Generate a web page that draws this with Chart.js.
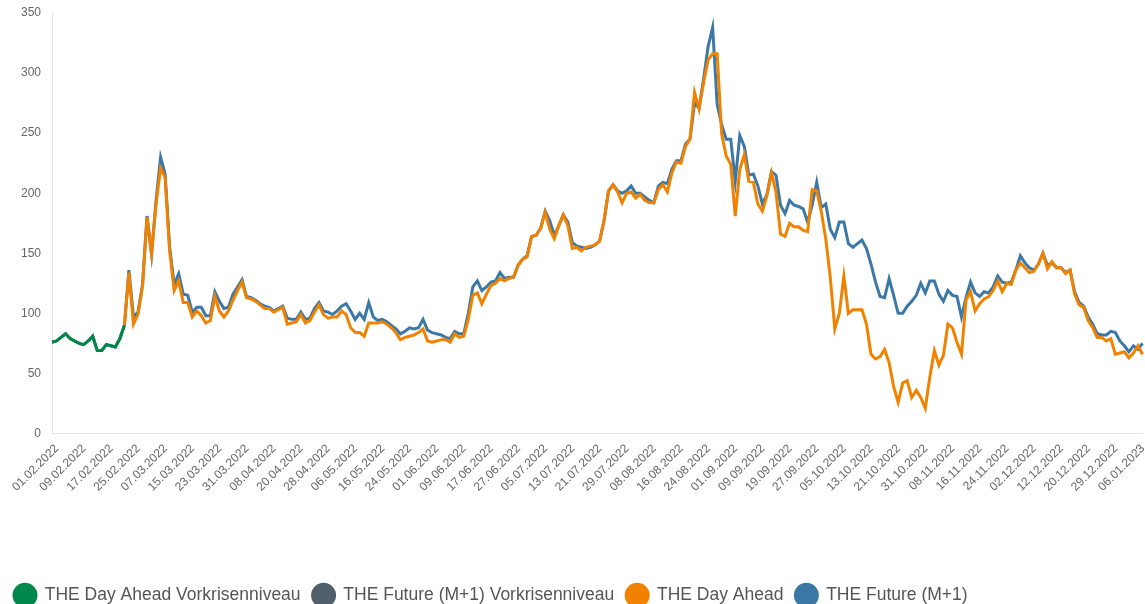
<!DOCTYPE html>
<html lang="de">
<head>
<meta charset="utf-8">
<title>THE Gaspreise</title>
<script src="https://cdn.jsdelivr.net/npm/chart.js@4.4.1/dist/chart.umd.min.js"></script>
<style>
    html, body { margin: 0; padding: 0; background: #fff; }
    #wrap { position: relative; width: 1145px; height: 604px; }
</style>
</head>
<body>
<div id="wrap"><canvas id="priceChart"></canvas></div>
<script>
// Handelstage (ohne Wochenenden und Feiertage)
const firstDay = "2022-02-01";
const lastDay = "2023-01-09";
const holidays = ["2022-04-15", "2022-04-18", "2022-12-26"];

// Vorkrisenniveau, Index 0..16
const dayAheadPre = [76, 77, 80, 83, 79, 77, 75, 74, 77, 81, 69, 69, 74, 73, 72, 79, 90];
const futurePre = [76, 77, 80, 83, 79, 77, 75, 74, 77, 81, 69, 69, 74, 73, 72, 79, 90];

// ab Index 16 (23.02.2022)
const crisisStart = 16;
const dayAhead = [
    90, 134, 91, 99, 122, 180, 150, 191, 221, 213,
    152, 119, 127, 109, 109, 97, 102, 98, 92, 94,
    114, 102, 97, 102, 111, 119, 126, 113, 112, 110,
    107, 104, 104, 101, 103, 105, 91, 92, 93, 99,
    92, 94, 101, 107, 99, 96, 97, 97, 102, 99,
    88, 84, 84, 81, 92, 92, 92, 93, 91, 88,
    84, 78, 80, 81, 82, 84, 87, 77, 76, 77,
    78, 78, 76, 83, 80, 81, 95, 115, 117, 108,
    116, 123, 125, 129, 127, 129, 130, 140, 145, 147,
    164, 165, 171, 184, 170, 162, 173, 182, 173, 154,
    155, 152, 155, 156, 157, 160, 177, 202, 207, 201, 192,
    200, 201, 196, 199, 194, 192, 192, 203, 207, 201,
    217, 226, 225, 239, 245, 284, 270, 292, 311, 316,
    316, 249, 231, 224, 181, 220, 232, 210, 209, 191,
    185, 198, 217, 201, 166, 164, 175, 172, 172, 169,
    168, 203, 202, 185, 162, 130, 87, 100, 131, 100,
    103, 103, 103, 91, 66, 62, 64, 70, 59, 39,
    26, 42, 44, 30, 36, 30, 21, 47, 69, 57,
    65, 91, 88, 76, 66, 111, 118, 102, 108, 112,
    114, 119, 127, 118, 125, 124, 136, 142, 138, 134,
    135, 141, 150, 137, 143, 138, 138, 133, 136, 116,
    107, 105, 94, 88, 80, 80, 77, 79, 66, 67,
    68, 63, 67, 73, 66,
];
const future = [
    90, 136, 97, 101, 124, 181, 149, 194, 230, 216,
    155, 124, 133, 116, 115, 101, 105, 105, 98, 98,
    118, 110, 104, 105, 116, 122, 128, 114, 113, 111,
    108, 106, 105, 102, 104, 106, 96, 95, 95, 101,
    95, 96, 104, 109, 102, 101, 99, 102, 106, 108,
    102, 95, 100, 95, 109, 97, 94, 95, 93, 90,
    87, 83, 85, 88, 87, 88, 95, 86, 84, 83,
    82, 80, 79, 85, 83, 83, 100, 122, 127, 119,
    122, 126, 127, 134, 129, 130, 130, 140, 145, 148,
    164, 165, 171, 185, 177, 165, 173, 182, 176, 159,
    156, 155, 154, 155, 157, 160, 177, 202, 207, 202, 200,
    202, 206, 200, 200, 197, 194, 192, 206, 209, 208,
    220, 227, 227, 241, 245, 275, 271, 295, 322, 338,
    274, 257, 245, 245, 210, 248, 239, 215, 216, 206,
    191, 199, 218, 215, 190, 183, 194, 190, 189, 187,
    176, 190, 209, 188, 191, 170, 163, 176, 176, 158,
    155, 158, 161, 154, 141, 126, 114, 113, 129, 115,
    100, 100, 106, 110, 115, 125, 117, 127, 127, 116,
    110, 119, 115, 114, 97, 113, 126, 117, 114, 118,
    117, 122, 131, 126, 125, 126, 136, 148, 142, 138,
    136, 141, 150, 140, 142, 138, 138, 134, 136, 118,
    109, 106, 97, 91, 83, 82, 82, 85, 84, 77,
    73, 68, 73, 70, 75,
];

const yTicks = [0, 50, 100, 150, 200, 250, 300, 350];
const labelEvery = 6;

function pad(n) {
    return String(n).padStart(2, "0");
}

function buildTradingDays() {
    const out = [];
    const d = new Date(firstDay + "T12:00:00Z");
    const end = new Date(lastDay + "T12:00:00Z");
    while (d <= end) {
        const iso = d.toISOString().slice(0, 10);
        const wd = d.getUTCDay();
        if (wd !== 0 && wd !== 6 && !holidays.includes(iso)) {
            out.push(pad(d.getUTCDate()) + "." + pad(d.getUTCMonth() + 1) + "." + d.getUTCFullYear());
        }
        d.setUTCDate(d.getUTCDate() + 1);
    }
    return out;
}

const dates = buildTradingDays();

function fromStart(values) {
    return dates.map((_, i) => (i < crisisStart ? null : values[i - crisisStart] ?? null));
}

function lineSet(label, data, color) {
    return {
        label: label,
        data: data,
        borderColor: color,
        backgroundColor: color,
        borderWidth: 3,
        pointRadius: 0,
        pointHoverRadius: 0,
        tension: 0,
        fill: false,
    };
}

Chart.defaults.font.family = "Arial, 'Liberation Sans', sans-serif";
Chart.defaults.color = "#666666";

new Chart(document.getElementById("priceChart"), {
    type: "line",
    data: {
        labels: dates,
        datasets: [
            lineSet("THE Day Ahead Vorkrisenniveau", dayAheadPre, "#00874B"),
            lineSet("THE Future (M+1) Vorkrisenniveau", futurePre, "#505F69"),
            lineSet("THE Day Ahead", fromStart(dayAhead), "#F08200"),
            lineSet("THE Future (M+1)", fromStart(future), "#3B78A6"),
        ],
    },
    options: {
        responsive: true,
        maintainAspectRatio: false,
        animation: false,
        layout: { padding: { top: 13, left: 2, right: 0, bottom: -10 } },
        scales: {
            x: {
                grid: { display: false, drawTicks: false },
                border: { display: true, color: "#e3e3e3", width: 1 },
                ticks: {
                    autoSkip: false,
                    minRotation: 45,
                    maxRotation: 45,
                    padding: 8,
                    labelOffset: 5,
                    color: "#666666",
                    font: { size: 12 },
                    callback: function (value, index) {
                        return index % labelEvery === 0 ? this.getLabelForValue(value) : null;
                    },
                },
                afterFit: function (scale) {
                    scale.height = 141;
                    scale.paddingLeft = 0;
                    scale.paddingRight = 2.5;
                },
            },
            y: {
                min: yTicks[0],
                max: yTicks[yTicks.length - 1],
                afterBuildTicks: function (scale) {
                    scale.ticks = yTicks.map((v) => ({ value: v }));
                },
                afterFit: function (scale) {
                    scale.width = 50;
                    scale.paddingTop = 0;
                    scale.paddingBottom = 0;
                },
                grid: { display: false, drawTicks: false },
                border: { display: true, color: "#e3e3e3", width: 1 },
                ticks: {
                    padding: 11,
                    color: "#666666",
                    font: { size: 12 },
                },
            },
        },
        plugins: {
            legend: {
                position: "bottom",
                align: "start",
                labels: {
                    usePointStyle: true,
                    pointStyle: "circle",
                    pointStyleWidth: 22,
                    boxHeight: 15.5,
                    padding: 12,
                    color: "#555555",
                    font: { size: 17.5 },
                },
            },
            tooltip: { enabled: false },
        },
    },
});
</script>
</body>
</html>
